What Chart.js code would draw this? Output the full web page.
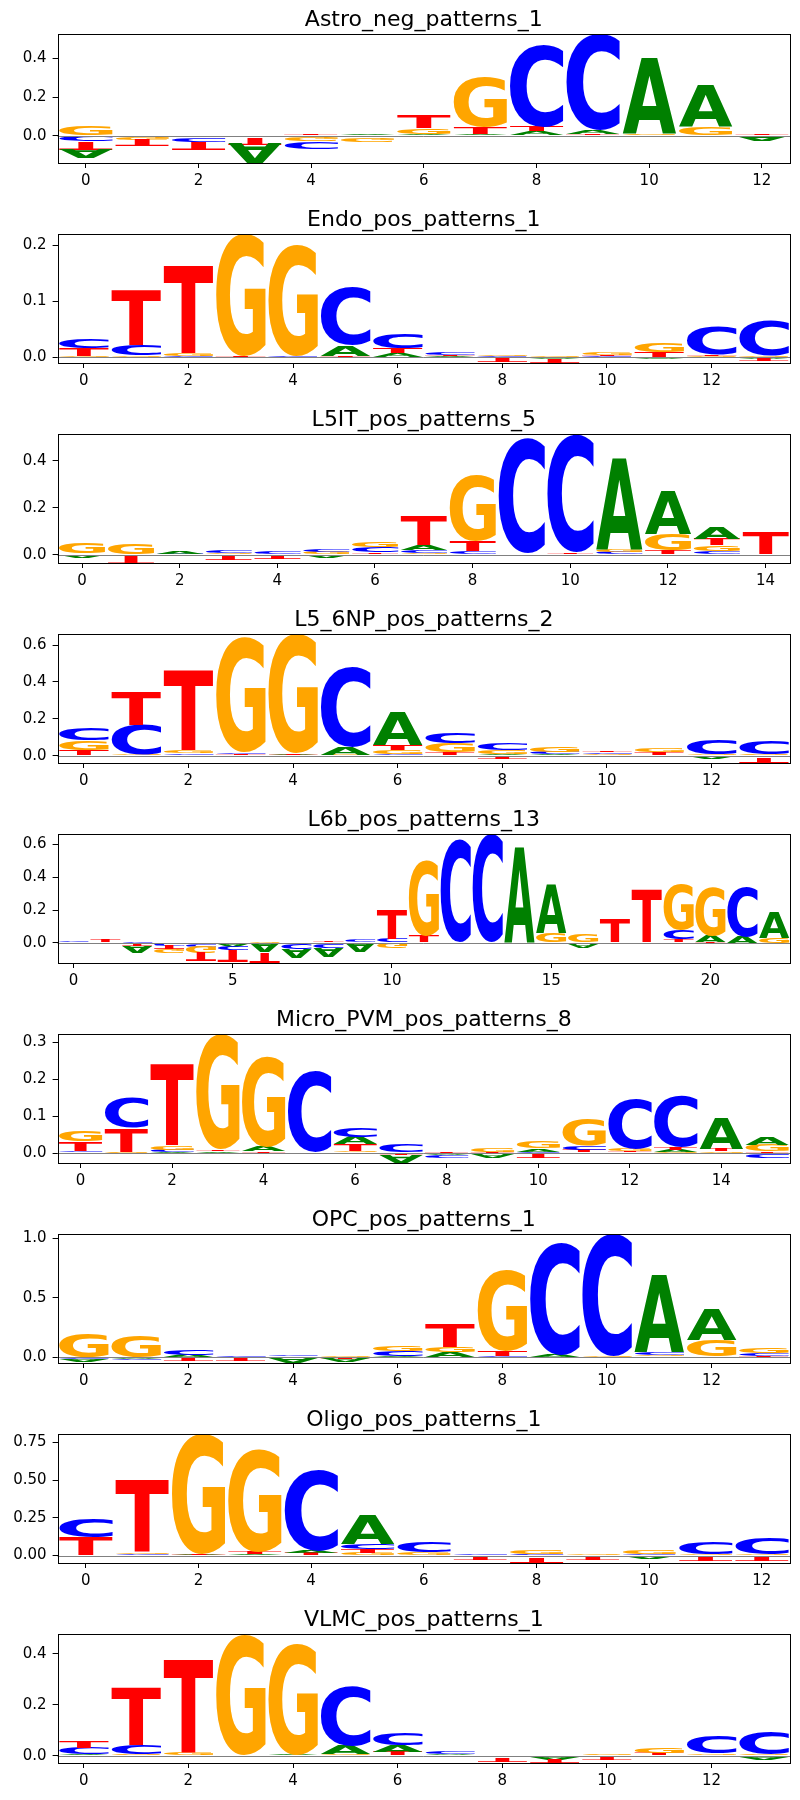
<!DOCTYPE html>
<html>
<head>
<meta charset="utf-8">
<script src="https://cdn.jsdelivr.net/npm/chart.js@4.4.0/dist/chart.umd.min.js"></script>
<style>
  body { margin: 0; background: #fff; }
  canvas { display: block; }
</style>
</head>
<body>
<div id="wrap"></div>
<script>
// panel titles, y tick values, tick decimals, x tick step
const titles = ['Astro_neg_patterns_1', 'Endo_pos_patterns_1', 'L5IT_pos_patterns_5', 'L5_6NP_pos_patterns_2',
    'L6b_pos_patterns_13', 'Micro_PVM_pos_patterns_8', 'OPC_pos_patterns_1', 'Oligo_pos_patterns_1', 'VLMC_pos_patterns_1'];
const yTicks = [
    [0, 0.2, 0.4], [0, 0.1, 0.2], [0, 0.2, 0.4], [0, 0.2, 0.4, 0.6], [0, 0.2, 0.4, 0.6],
    [0, 0.1, 0.2, 0.3], [0, 0.5, 1.0], [0, 0.25, 0.5, 0.75], [0, 0.2, 0.4]
];
const yDecimals = [1, 1, 1, 1, 1, 1, 1, 2, 1];
const xStep = [2, 2, 2, 2, 5, 2, 2, 2, 2];

// letter heights per position (A, C, G, T)
const astroA = [-0.045, 0.002, -0.01, -0.101, -0.008, 0.006, 0.008, 0.008, 0.02, 0.02, 0.392, 0.218, -0.025];
const astroC = [-0.03, -0.005, -0.02, 0.002, -0.032, -0.01, 0.003, 0.002, 0.43, 0.499, 0.002, -0.006, -0.002];
const astroG = [0.052, -0.012, 0, -0.01, -0.022, -0.018, 0.03, 0.26, 0.003, 0, 0.004, 0.042, 0.002];
const astroT = [-0.038, -0.03, -0.04, -0.03, 0.006, 0.002, 0.065, 0.035, 0.025, 0.008, 0.001, 0.003, 0.008];

const endoA = [0.001, 0.001, 0.001, 0, 0.001, 0.019, 0.007, 0.002, 0.001, -0.003, 0.001, -0.004, 0.001, -0.002];
const endoC = [0.016, 0.018, 0.001, 0, 0.001, 0.104, 0.027, 0.004, 0.001, 0.001, 0.001, 0.001, 0.051, 0.062];
const endoG = [0.002, 0.002, 0.004, 0.2184, 0.199, 0.001, 0.001, -0.001, 0.002, 0.003, 0.004, 0.016, 0.001, 0.002];
const endoT = [0.013, 0.099, 0.156, 0.002, 0, 0.001, 0.008, 0.002, -0.007, -0.0072, 0.002, 0.008, 0.003, -0.005];

const l5itA = [-0.008, 0, 0.01, -0.004, -0.003, -0.01, 0.003, 0.022, 0.004, 0.001, 0.002, 0.39, 0.184, 0.047, -0.003];
const l5itC = [-0.002, -0.004, 0.003, 0.012, 0.008, 0.01, 0.022, 0.01, 0.01, 0.492, 0.5047, 0.008, 0.001, 0.015, -0.002];
const l5itG = [0.045, 0.05, -0.002, 0.006, 0.004, 0.008, 0.025, 0.008, 0.284, 0.002, 0.001, 0.008, 0.069, 0.025, 0.002];
const l5itT = [0.004, -0.0318, 0.001, -0.017, -0.015, 0.002, 0.006, 0.12, 0.042, 0.001, 0.007, 0.003, 0.018, 0.025, 0.094];

const l56npA = [-0.003, 0.002, 0.005, 0.003, 0.003, 0.04, 0.177, 0.005, 0.01, 0.006, 0.004, -0.008, -0.015, -0.012];
const l56npC = [0.064, 0.159, 0.008, 0.009, 0.001, 0.43, 0.009, 0.055, 0.035, 0.012, 0.008, 0.005, 0.077, 0.075];
const l56npG = [0.05, 0.005, 0.015, 0.625, 0.649, 0.004, 0.021, 0.051, 0.022, 0.025, 0.006, 0.02, 0.005, 0.007];
const l56npT = [0.031, 0.177, 0.437, 0.006, 0.007, 0.001, 0.03, 0.013, -0.016, -0.005, 0.008, 0.015, 0.001, -0.028];

const l6bA = [-0.012, -0.012, -0.035, -0.003, -0.005, -0.012, -0.06, -0.052, -0.055, -0.055, -0.003, 0.001,
    0.002, 0.002, 0.58, 0.291, -0.02, 0.001, 0.001, 0.002, 0.035, 0.035, 0.158];
const l6bC = [0.006, 0.002, 0.005, -0.012, -0.012, -0.022, 0.001, -0.028, -0.025, 0.015, 0.025, 0.002,
    0.627, 0.662, 0.001, 0.001, 0.002, 0.001, 0.001, 0.057, 0.001, 0.307, -0.008];
const l6bG = [0.004, 0.001, 0.001, -0.025, -0.04, -0.008, 0.01, -0.008, -0.005, 0.002, -0.03, 0.461,
    0.001, 0, 0.001, 0.055, 0.045, 0.001, 0.001, 0.283, 0.297, 0.001, 0.03];
const l6bT = [0, 0.014, -0.02, -0.022, -0.052, -0.067, -0.063, 0.005, 0.01, 0.001, 0.174, 0.035,
    0.001, 0, 0.001, 0.001, -0.005, 0.146, 0.32, 0.018, 0.004, 0.001, 0.001];

const microA = [0.002, 0.001, 0.003, 0.004, 0.012, 0.001, 0.02, -0.022, -0.004, -0.012, 0.008, 0.002, 0.002, 0.005, 0.084, 0.022];
const microC = [0.004, 0.08, 0.006, 0.001, 0.001, 0.22, 0.026, 0.023, -0.008, 0.001, 0.004, 0.012, 0.134, 0.138, 0.001, -0.01];
const microG = [0.03, 0.002, 0.012, 0.313, 0.247, 0.001, 0.006, 0.001, 0.001, 0.012, 0.017, 0.073, 0.006, 0.003, 0.005, 0.018];
const microT = [0.025, 0.065, 0.22, 0.004, 0.004, 0.001, 0.018, -0.005, 0.002, 0.002, -0.012, 0.006, 0.003, 0.008, 0.006, 0.005];

const opcA = [-0.02, -0.01, 0.02, 0.006, -0.045, -0.035, 0.01, 0.04, 0.003, 0.015, 0.002, 0.65, 0.26, 0.002];
const opcC = [-0.014, -0.012, 0.045, 0.012, 0.015, 0.004, 0.04, 0.003, 0.01, 0.95, 1.028, 0.02, 0.002, 0.025];
const opcG = [0.206, 0.184, 0.001, -0.005, 0.008, 0.012, 0.04, 0.045, 0.68, 0.001, 0.007, 0.015, 0.14, 0.045];
const opcT = [0.001, 0.001, -0.022, -0.025, -0.003, -0.01, 0.002, 0.2, 0.045, 0.001, 0, 0.007, 0.002, 0.006];

const oligoA = [0.001, 0.004, 0.004, 0.006, 0.018, 0.19, -0.015, -0.012, -0.015, -0.01, -0.02, -0.01, -0.008];
const oligoC = [0.124, 0.006, 0.001, 0.005, 0.539, 0.033, 0.075, 0.008, 0.008, 0.002, 0.01, 0.08, 0.11];
const oligoG = [0.001, 0.012, 0.795, 0.68, 0.003, 0.02, 0.015, 0.002, 0.025, 0.008, 0.022, 0.012, 0.01];
const oligoT = [0.12, 0.478, 0.006, 0.015, 0.012, 0.022, 0.006, -0.018, -0.034, -0.018, -0.005, -0.025, -0.028];

const vlmcA = [0.004, 0.001, 0.001, 0, 0.002, 0.033, 0.024, 0.003, -0.008, -0.01, -0.006, -0.006, -0.008, -0.008];
const vlmcC = [0.025, 0.036, 0.001, 0, 0.001, 0.236, 0.046, 0.01, 0.001, -0.005, 0.001, 0.003, 0.068, 0.09];
const vlmcG = [-0.004, 0.003, 0.008, 0.478, 0.434, 0.004, 0.002, 0.001, 0.002, 0.001, 0.003, 0.018, 0.004, 0.005];
const vlmcT = [0.026, 0.228, 0.364, 0, 0, 0.001, 0.014, 0.001, -0.014, -0.014, -0.01, 0.008, 0.003, -0.006];

const panels = [
    [astroA, astroC, astroG, astroT],
    [endoA, endoC, endoG, endoT],
    [l5itA, l5itC, l5itG, l5itT],
    [l56npA, l56npC, l56npG, l56npT],
    [l6bA, l6bC, l6bG, l6bT],
    [microA, microC, microG, microT],
    [opcA, opcC, opcG, opcT],
    [oligoA, oligoC, oligoG, oligoT],
    [vlmcA, vlmcC, vlmcG, vlmcT]
];

const LETTERS = ['A', 'C', 'G', 'T'];
const COLORS = { A: '#008000', C: '#0000ff', G: '#ffa500', T: '#ff0000' };
const FONT = '"DejaVu Sans"';

// draw one letter stretched into its box, upside down when below zero
function drawGlyph(ctx, ch, x0, x1, yTop, yBot, flip) {
    const w = x1 - x0, h = yBot - yTop;
    if (h < 0.05 || w <= 0) return;
    ctx.save();
    ctx.font = 'bold 200px ' + FONT;
    ctx.textAlign = 'left';
    ctx.textBaseline = 'alphabetic';
    const m = ctx.measureText(ch);
    const gw = m.actualBoundingBoxLeft + m.actualBoundingBoxRight;
    const gh = m.actualBoundingBoxAscent + m.actualBoundingBoxDescent;
    if (flip) {
        ctx.translate(x0, yBot);
        ctx.scale(w / gw, -h / gh);
    } else {
        ctx.translate(x0, yTop);
        ctx.scale(w / gw, h / gh);
    }
    ctx.fillStyle = COLORS[ch];
    ctx.fillText(ch, m.actualBoundingBoxLeft, m.actualBoundingBoxAscent);
    ctx.restore();
}

const logoPlugin = {
    id: 'logo',
    afterDatasetsDraw(chart) {
        const ctx = chart.ctx;
        chart.data.datasets.forEach((ds, di) => {
            chart.getDatasetMeta(di).data.forEach((bar, i) => {
                const v = ds.data[i];
                if (!v) return;
                const p = bar.getProps(['x', 'y', 'base', 'width'], true);
                drawGlyph(ctx, ds.letters[i], p.x - p.width / 2, p.x + p.width / 2,
                    Math.min(p.y, p.base), Math.max(p.y, p.base), v < 0);
            });
        });
        // baseline at zero
        const a = chart.chartArea;
        const y0 = Math.round(chart.scales.y.getPixelForValue(0)) + 0.5;
        ctx.save();
        ctx.strokeStyle = 'gray';
        ctx.lineWidth = 1;
        ctx.beginPath();
        ctx.moveTo(a.left, y0);
        ctx.lineTo(a.right, y0);
        ctx.stroke();
        ctx.restore();
    },
    afterDraw(chart) {
        const ctx = chart.ctx;
        const a = chart.chartArea;
        ctx.save();
        ctx.strokeStyle = '#000';
        ctx.lineWidth = 1;
        ctx.strokeRect(Math.round(a.left) + 0.5, Math.round(a.top) + 0.5,
            Math.round(a.right) - Math.round(a.left), Math.round(a.bottom) - Math.round(a.top));
        ctx.fillStyle = '#000';
        ctx.font = '22px ' + FONT;
        ctx.textAlign = 'center';
        ctx.textBaseline = 'alphabetic';
        ctx.fillText(chart.options.plugins.logo.title, (a.left + a.right) / 2, a.top - 8);
        ctx.restore();
    }
};

const wrap = document.getElementById('wrap');

panels.forEach((vals, k) => {
    const n = vals[0].length;
    const positions = Array.from({ length: n }, (_, i) => i);
    // order letters at each position by size: smallest next to zero
    const ranks = [0, 1, 2, 3].map(() => ({ data: [], letters: [] }));
    positions.forEach(p => {
        const entries = LETTERS.map((L, j) => ({ L, v: vals[j][p] }))
            .sort((a, b) => Math.abs(a.v) - Math.abs(b.v));
        entries.forEach((e, r) => {
            ranks[r].data.push(e.v);
            ranks[r].letters.push(e.L);
        });
    });

    const canvas = document.createElement('canvas');
    canvas.width = 800;
    canvas.height = 200;
    wrap.appendChild(canvas);

    new Chart(canvas, {
        type: 'bar',
        data: {
            labels: positions.map(String),
            datasets: ranks.map(r => ({
                data: r.data,
                letters: r.letters,
                backgroundColor: 'rgba(0,0,0,0)',
                borderWidth: 0,
                barPercentage: 0.95,
                categoryPercentage: 1.0
            }))
        },
        options: {
            responsive: false,
            animation: false,
            devicePixelRatio: 1,
            layout: { padding: { top: 34, right: 10, left: 0, bottom: 0 } },
            plugins: {
                legend: { display: false },
                tooltip: { enabled: false },
                logo: { title: titles[k] }
            },
            scales: {
                x: {
                    type: 'category',
                    stacked: true,
                    offset: true,
                    grid: { drawOnChartArea: false, drawTicks: true, tickLength: 5, color: '#000', offset: false },
                    border: { display: false },
                    ticks: { autoSkip: false, maxRotation: 0, padding: 4, color: '#000', font: { family: FONT, size: 15 } },
                    afterBuildTicks: s => {
                        s.ticks = positions.filter(p => p % xStep[k] === 0).map(p => ({ value: p }));
                    },
                    afterFit: s => { s.height = 37; }
                },
                y: {
                    type: 'linear',
                    stacked: true,
                    bounds: 'data',
                    grid: { drawOnChartArea: false, drawTicks: true, tickLength: 5, color: '#000' },
                    border: { display: false },
                    ticks: {
                        padding: 6, color: '#000', font: { family: FONT, size: 15 },
                        callback: v => Number(v).toFixed(yDecimals[k])
                    },
                    afterBuildTicks: s => {
                        s.ticks = yTicks[k].map(v => ({ value: v }));
                    },
                    afterFit: s => { s.width = 57.6; }
                }
            }
        },
        plugins: [logoPlugin]
    });
});
</script>
</body>
</html>
